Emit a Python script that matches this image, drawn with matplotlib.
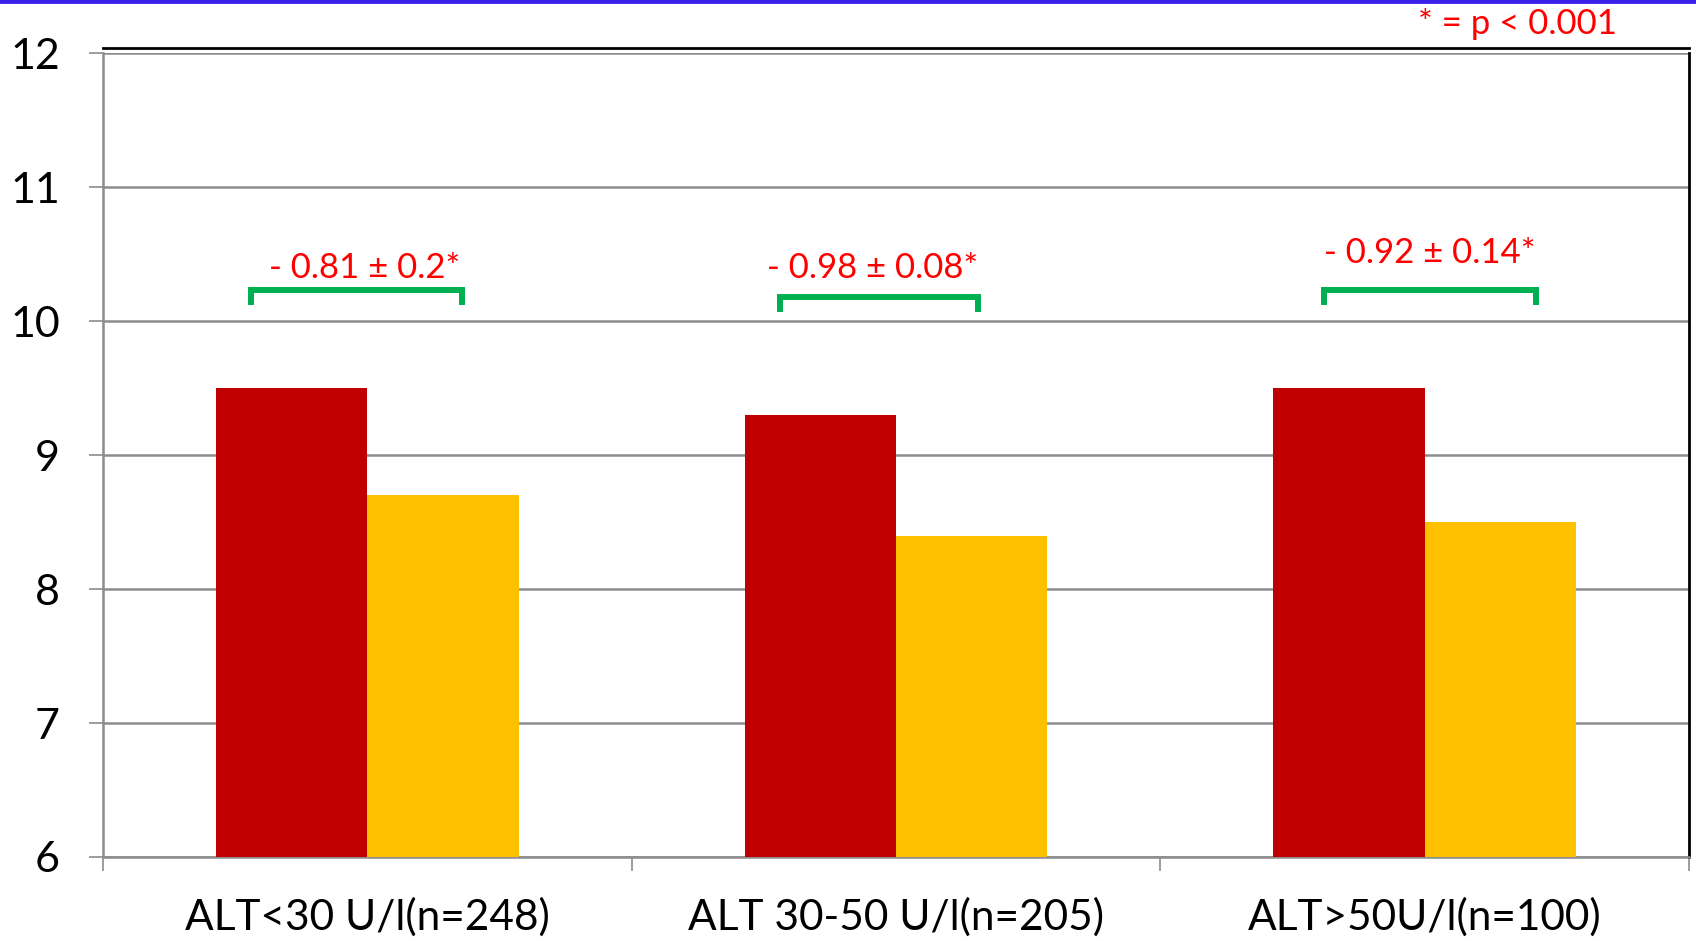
import matplotlib
matplotlib.use("Agg")
import matplotlib.pyplot as plt
import numpy as np
from matplotlib.lines import Line2D

plt.rcParams['font.family'] = ['Lato', 'DejaVu Sans']

categories = ["ALT<30 U/l(n=248)", "ALT 30-50 U/l(n=205)", "ALT>50U/l(n=100)"]
before = [9.5, 9.3, 9.5]
after = [8.7, 8.4, 8.5]
diff_labels = ["- 0.81 \u00b1 0.2*", "- 0.98 \u00b1 0.08*", "- 0.92 \u00b1 0.14*"]
bracket_y = [10.23, 10.18, 10.23]
bracket_left = [-0.22, -0.22, -0.19]
bracket_right = [0.18, 0.155, 0.21]
label_y = [10.40, 10.40, 10.51]
label_dx = [-0.005, -0.045, 0.01]
yticks = [6, 7, 8, 9, 10, 11, 12]

RED = "#C00000"
YELLOW = "#FFC000"
GREEN = "#00B050"
TXT = "#FF0000"
GRID = "#8C8C8C"

fig = plt.figure(figsize=(16.96, 9.41), dpi=100)
ax = fig.add_axes([0.0607, 0.0893, 0.9352, 0.8540])

x = np.arange(len(categories))
w = 0.286
ax.bar(x - w / 2, before, width=w, color=RED, zorder=3)
ax.bar(x + w / 2, after, width=w, color=YELLOW, zorder=3)

ax.set_xlim(-0.5, 2.5)
ax.set_ylim(6, 12)
ax.set_yticks(yticks)
ax.yaxis.grid(True, color=GRID, linewidth=1.8, zorder=0)
ax.set_axisbelow(True)

ax.set_xticks(x)
ax.set_xticklabels(categories)
ax.set_xticks([-0.5, 0.5, 1.5, 2.5], minor=True)
ax.tick_params(axis='x', which='major', length=0, pad=29, labelsize=30.5)
ax.tick_params(axis='x', which='minor', length=10, width=1.2, color=GRID, direction='out')
ax.tick_params(axis='y', length=10, width=1.2, color=GRID, pad=21, labelsize=31)

for s in ['left', 'bottom']:
    ax.spines[s].set_color(GRID)
    ax.spines[s].set_linewidth(1.8)
ax.spines['top'].set_color('black')
ax.spines['top'].set_linewidth(2)
ax.spines['top'].set_position(('outward', 4))
ax.spines['right'].set_color('black')
ax.spines['right'].set_linewidth(2)

for i in range(len(categories)):
    xl = x[i] + bracket_left[i]
    xr = x[i] + bracket_right[i]
    yb = bracket_y[i]
    ax.plot([xl, xl, xr, xr], [yb - 0.09, yb, yb, yb - 0.09], color=GREEN,
            linewidth=4.3, solid_joinstyle='miter', zorder=4)
    ax.text(x[i] + label_dx[i], label_y[i], diff_labels[i], color=TXT, fontsize=25,
            ha='center', va='center', zorder=5)

fig.text(0.895, 0.975, "* = p < 0.001", color=TXT, fontsize=25, ha='center', va='center')
fig.add_artist(Line2D([0, 1], [0.9985, 0.9985], transform=fig.transFigure,
                      color="#3D1FEA", linewidth=3.5))

fig.savefig("out.png", dpi=100)
